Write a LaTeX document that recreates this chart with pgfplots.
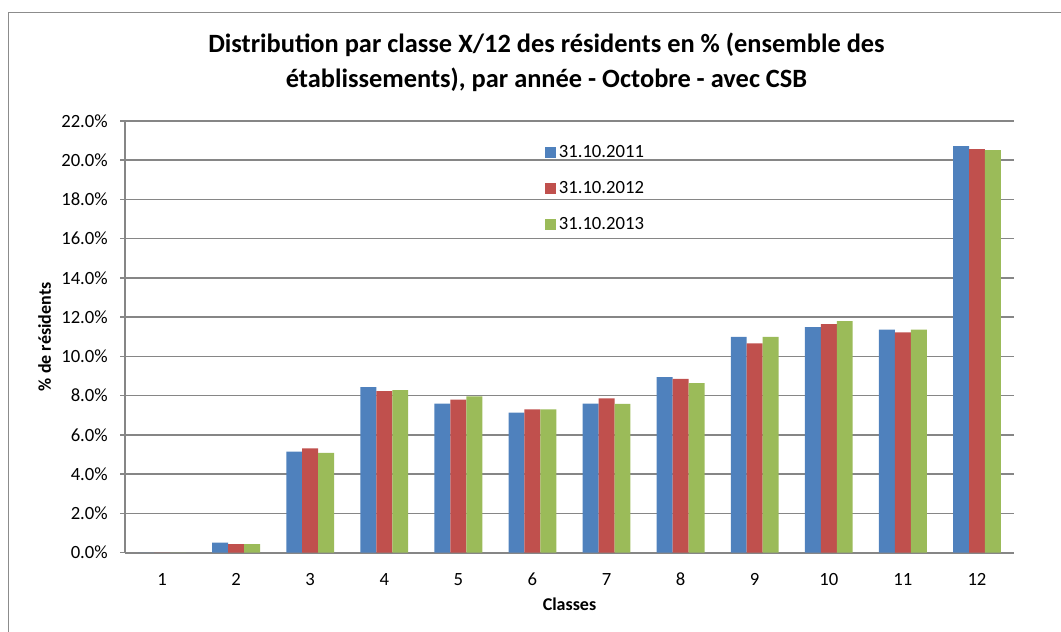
\documentclass[border=0pt]{standalone}
\usepackage{pgfplots}
\pgfplotsset{compat=1.18}
\usepackage{fontspec}
\setmainfont{Carlito}
\definecolor{cblue}{HTML}{4F81BD}
\definecolor{cred}{HTML}{C0504D}
\definecolor{cgreen}{HTML}{9BBB59}
\definecolor{cgrid}{HTML}{868686}
\definecolor{cframe}{HTML}{8C8C8C}

\begin{document}
\begin{tikzpicture}[x=0.75pt,y=0.75pt]
\path[use as bounding box] (0,0) rectangle (1061,632);
\draw[cframe,line width=0.75pt] (8,0) -- (8,619) -- (1061,619);
\node[align=center,font=\fontsize{19.8}{26.5}\selectfont\bfseries] at (546.5,569.5)
  {Distribution par classe X/12 des résidents en \% (ensemble des\\établissements), par année - Octobre - avec CSB};

\begin{axis}[
    at={(93.75pt,59.5pt)}, anchor=south west,
    scale only axis,
    width=666.75pt, height=323.8pt,
    xmin=0.5, xmax=12.5,
    ymin=0, ymax=22,
    xtick={1,...,12},
    ytick={0,2,...,22},
    yticklabels={0.0\%,2.0\%,4.0\%,6.0\%,8.0\%,10.0\%,12.0\%,14.0\%,16.0\%,18.0\%,20.0\%,22.0\%},
    /pgf/number format/assume math mode=true,
    tick label style={font=\fontsize{14}{16}\selectfont},
    xtick style={draw=none},
    ytick style={cgrid,line width=1.2pt},
    tick align=outside,
    major tick length=3.75pt,
    yticklabel style={anchor=east,inner sep=0pt,xshift=-9pt},
    xticklabel style={anchor=center,inner sep=0pt,yshift=-16.5pt},
    axis x line*=bottom, axis y line*=left,
    axis line style={cgrid,line width=1.4pt,-},
    ymajorgrids=true,
    grid style={cgrid,line width=1.1pt},
    xlabel={Classes},
    ylabel={\% de résidents},
    label style={font=\fontsize{13.5}{15}\selectfont\bfseries},
    xlabel style={at={(axis description cs:0.5,-0.12)},anchor=center},
    ylabel style={at={(axis description cs:-0.0904,0.5)},anchor=center},
    legend style={at={(0.4724,0.95)},anchor=north west,draw=none,fill=none,
        font=\fontsize{14}{16}\selectfont,row sep=12.3pt,inner sep=0pt},
    legend cell align=left,
    legend image code/.code={\fill[#1] (0pt,-4pt) rectangle (8.25pt,4.25pt);},
    every axis plot/.append style={ybar,bar width=0.215,draw=none},
]
\addplot[fill=cblue,bar shift=-0.215] coordinates {
 (1,0) (2,0.51) (3,5.15) (4,8.43) (5,7.60) (6,7.14) (7,7.60) (8,8.94) (9,11.00) (10,11.49) (11,11.36) (12,20.71)};
\addplot[fill=cred,bar shift=0] coordinates {
 (1,0) (2,0.44) (3,5.31) (4,8.23) (5,7.80) (6,7.30) (7,7.86) (8,8.86) (9,10.66) (10,11.65) (11,11.22) (12,20.56)};
\addplot[fill=cgreen,bar shift=0.215] coordinates {
 (1,0) (2,0.44) (3,5.08) (4,8.28) (5,7.96) (6,7.30) (7,7.58) (8,8.64) (9,11.00) (10,11.80) (11,11.36) (12,20.51)};
\legend{31.10.2011,31.10.2012,31.10.2013}
\end{axis}
\end{tikzpicture}
\end{document}
